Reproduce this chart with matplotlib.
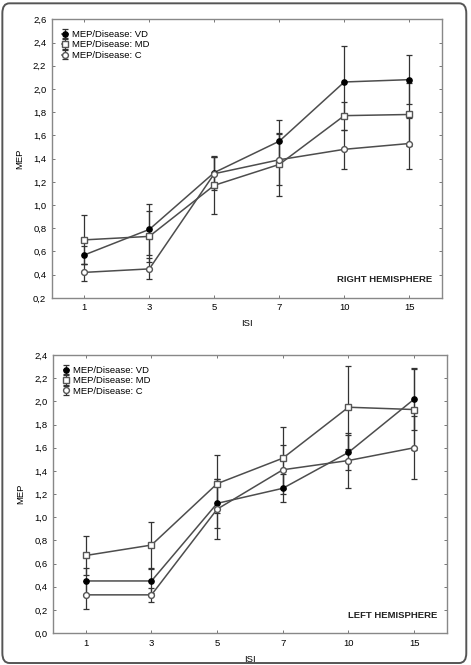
import matplotlib
matplotlib.use("Agg")
import matplotlib.pyplot as plt
from matplotlib.patches import FancyBboxPatch
import numpy as np

plt.rcParams['font.family'] = ['Liberation Sans', 'DejaVu Sans']

isi = ['1', '3', '5', '7', '10', '15']
groups = ['VD', 'MD', 'C']

# right hemisphere: means and half-widths of the error bars
right_mean = {
    'VD': [0.57, 0.79, 1.28, 1.55, 2.06, 2.08],
    'MD': [0.70, 0.73, 1.17, 1.35, 1.77, 1.78],
    'C':  [0.42, 0.45, 1.27, 1.39, 1.48, 1.53],
}
right_err = {
    'VD': [0.08, 0.22, 0.13, 0.18, 0.31, 0.21],
    'MD': [0.21, 0.22, 0.25, 0.27, 0.12, 0.27],
    'C':  [0.07, 0.09, 0.14, 0.22, 0.17, 0.22],
}

# left hemisphere
left_mean = {
    'VD': [0.45, 0.45, 1.12, 1.25, 1.56, 2.02],
    'MD': [0.67, 0.76, 1.29, 1.51, 1.95, 1.93],
    'C':  [0.33, 0.33, 1.07, 1.41, 1.49, 1.60],
}
left_err = {
    'VD': [0.11, 0.10, 0.21, 0.12, 0.15, 0.27],
    'MD': [0.17, 0.20, 0.25, 0.27, 0.36, 0.35],
    'C':  [0.12, 0.06, 0.26, 0.21, 0.24, 0.27],
}

styles = {
    'VD': dict(marker='o', mfc='black', mec='black', ms=3.8),
    'MD': dict(marker='s', mfc='white', mec='#555555', ms=3.8),
    'C':  dict(marker='o', mfc='white', mec='#555555', ms=4.2),
}

LINE = '#4d4d4d'


def draw_panel(ax, means, errs, yticks, label):
    x = np.arange(len(isi))
    handles = []
    for g in groups:
        h = ax.errorbar(x, means[g], yerr=errs[g], color=LINE, lw=1.1,
                        ecolor='#333333', elinewidth=0.9, capsize=2.5, capthick=0.9,
                        label=f'MEP/Disease: {g}', zorder=3, **styles[g])
        handles.append(h)
    ax.set_xlim(-0.5, len(isi) - 0.5)
    ax.set_xticks(x)
    ax.set_xticklabels(isi)
    ax.set_ylim(yticks[0], yticks[-1])
    ax.set_yticks(yticks)
    ax.set_yticklabels([f'{v:.1f}'.replace('.', ',') for v in yticks])
    ax.tick_params(direction='in', length=2.5, width=0.7, labelsize=6.8,
                   top=True, right=True, color='#777777', pad=4)
    for s in ax.spines.values():
        s.set_color('#888888')
        s.set_linewidth(1.0)
    ax.set_xlabel('ISI', fontsize=6.8, labelpad=5)
    ax.set_ylabel('MEP', fontsize=6.8, labelpad=6)
    ax.text(0.975, 0.065, label, transform=ax.transAxes, ha='right', va='center',
            fontsize=6.8, fontweight='bold', color='#222222')
    ax.legend(handles=handles, loc='upper left', frameon=False, fontsize=6.8,
              handlelength=0.6, handletextpad=0.4, labelspacing=0.15,
              borderaxespad=0.3, bbox_to_anchor=(0.01, 0.985))


fig = plt.figure(figsize=(4.71, 6.65), dpi=100)
fig.patch.set_facecolor('white')

ax1 = fig.add_axes([0.110, 0.552, 0.828, 0.419])
draw_panel(ax1, right_mean, right_err, np.round(np.arange(0.2, 2.61, 0.2), 1), 'RIGHT HEMISPHERE')

ax2 = fig.add_axes([0.1125, 0.048, 0.8365, 0.418])
draw_panel(ax2, left_mean, left_err, np.round(np.arange(0.0, 2.41, 0.2), 1), 'LEFT HEMISPHERE')

frame = FancyBboxPatch((0.005, 0.003), 0.985, 0.992, boxstyle='round,pad=0,rounding_size=0.015',
                       transform=fig.transFigure, fill=False, ec='#555555', lw=1.4)
fig.patches.append(frame)

fig.savefig('out.png', dpi=100)
